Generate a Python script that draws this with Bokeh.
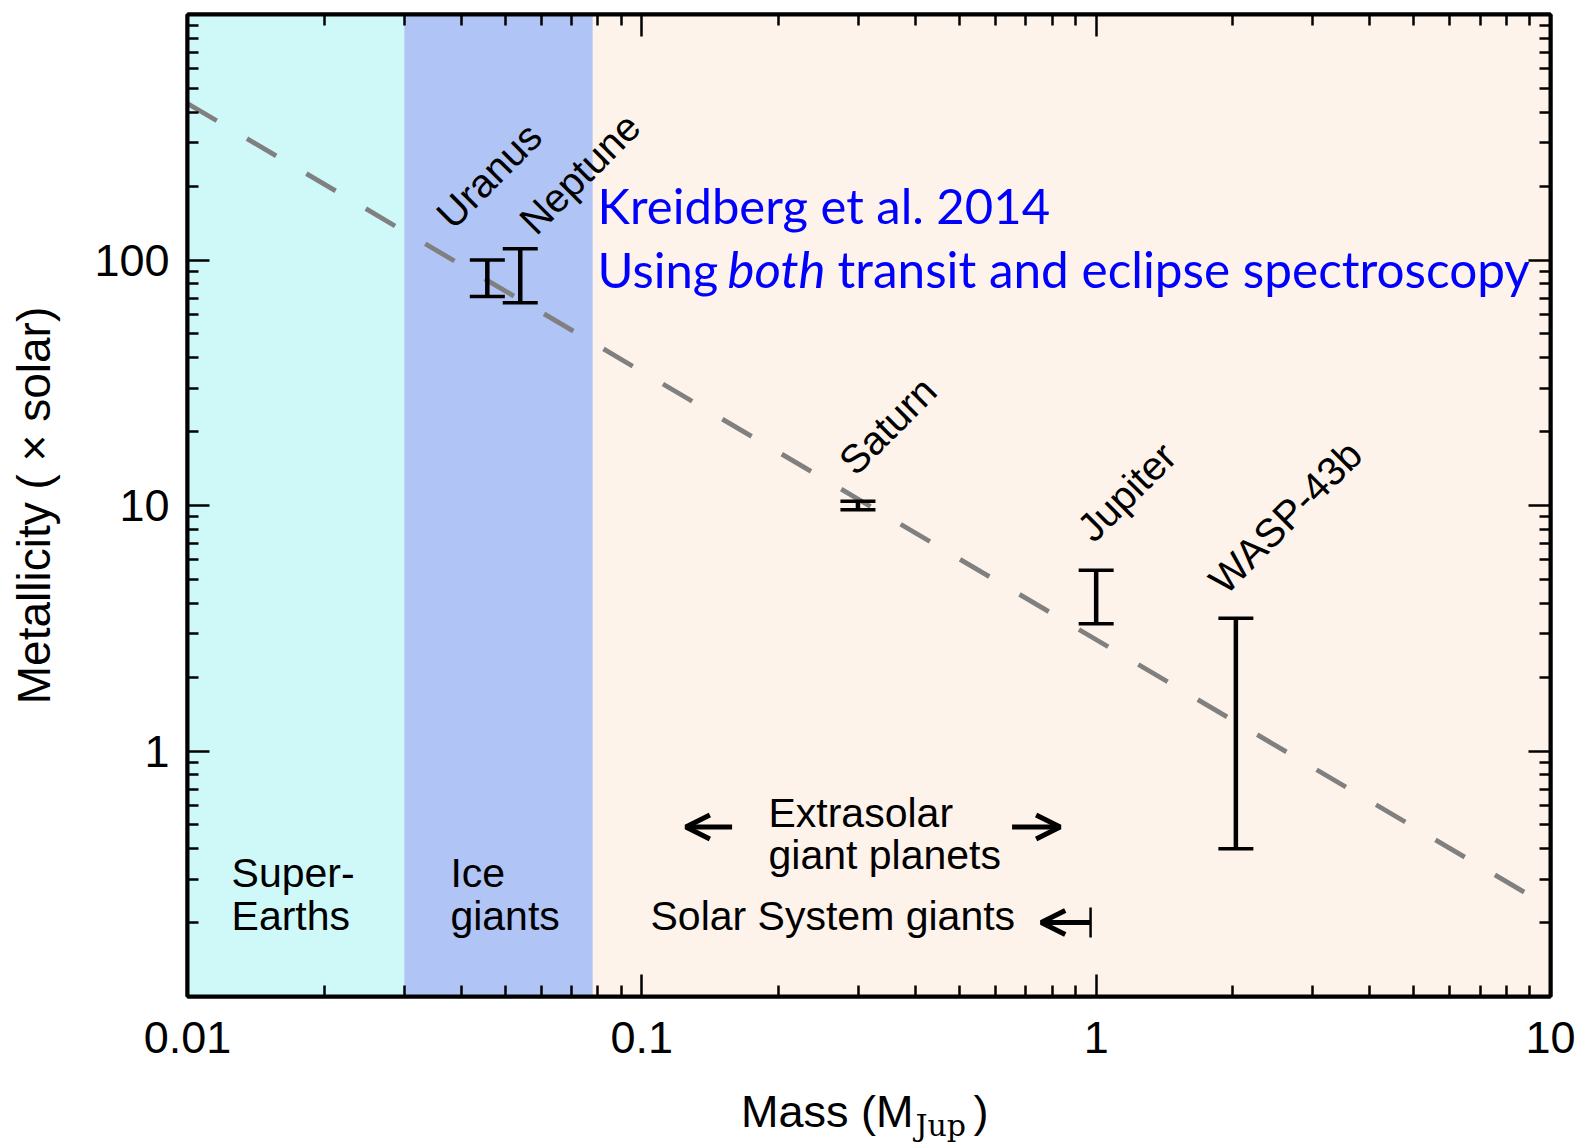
import numpy as np
from bokeh.plotting import figure
from bokeh.layouts import column
from bokeh.models import (LogAxis, FixedTicker, Arrow, OpenHead, TeeHead, Range1d)
from bokeh.embed import file_html
from bokeh.resources import INLINE
from bokeh.core.properties import value

# ---------------- data ----------------
planet_names = ["Uranus", "Neptune", "Saturn", "Jupiter", "WASP-43b"]
planet_mass = [0.0457, 0.054, 0.299, 1.0, 2.03]
metal_low = [71, 67, 9.6, 3.3, 0.40]
metal_high = [100, 111, 10.4, 5.45, 3.47]

trend_mass = [0.01, 10]
trend_metal = [434, 0.23]

region_left = [0.01, 0.03, 0.078]
region_right = [0.03, 0.078, 10]
region_colors = ["#CFF8F8", "#B0C4F5", "#FEF3EA"]

x_ticks = [0.01, 0.1, 1, 10]
x_tick_labels = ["0.01", "0.1", "1", "10"]
y_ticks = [1, 10, 100]
y_tick_labels = ["1", "10", "100"]

x_minor = [m * 10.0 ** k for k in range(-2, 1) for m in range(2, 10)]
y_minor = [m * 10.0 ** k for k in range(-1, 3) for m in range(2, 10)]

# annotation texts (anchor = left end of baseline)
region_texts = ["Super-", "Earths", "Ice", "giants", "Extrasolar", "giant planets", "Solar System giants"]
region_text_x = [0.0125, 0.0125, 0.0379, 0.0379, 0.19, 0.19, 0.1045]
region_text_y = [0.285, 0.19, 0.285, 0.19, 0.50, 0.337, 0.19]

label_dx = [-44, 6, -12, -12, -20]
label_dy = [-39, -22, -34, -36, -32]

# ---------------- figure ----------------
FONT = "Liberation Sans"

def bfix(size, k=0.4):
    # empirical shift so that the alphabetic baseline lands where intended
    return -k * size

p = figure(width=1585, height=1076, x_axis_type="log", y_axis_type="log",
           x_range=Range1d(0.01, 10), y_range=Range1d(0.1, 1000),
           output_backend="svg", toolbar_location=None,
           min_border_left=187, min_border_right=35, min_border_top=14, min_border_bottom=80)
p.xgrid.visible = False
p.ygrid.visible = False
p.outline_line_color = "black"
p.outline_line_width = 4
p.background_fill_color = "white"


def style_axis(ax, ticks, minor, labels, show_labels=True):
    ax.ticker = FixedTicker(ticks=ticks, minor_ticks=minor)
    ax.major_label_overrides = {t: l for t, l in zip(ticks, labels)}
    ax.axis_line_width = 4
    ax.axis_line_color = "black"
    ax.major_tick_in = 22
    ax.major_tick_out = 0
    ax.minor_tick_in = 11
    ax.minor_tick_out = 0
    ax.major_tick_line_width = 2.5
    ax.minor_tick_line_width = 2.5
    ax.major_tick_line_color = "black"
    ax.minor_tick_line_color = "black"
    ax.major_label_text_font = FONT
    ax.major_label_text_color = "black"
    if show_labels:
        ax.major_label_text_font_size = "45px"
    else:
        ax.major_label_text_font_size = "0px"
        ax.major_label_standoff = 0

style_axis(p.xaxis[0], x_ticks, x_minor, x_tick_labels)
style_axis(p.yaxis[0], y_ticks, y_minor, y_tick_labels)
p.xaxis[0].major_label_standoff = 25
p.yaxis[0].major_label_standoff = 18

top_ax = LogAxis()
style_axis(top_ax, x_ticks, x_minor, ["", "", "", ""], show_labels=False)
p.add_layout(top_ax, "above")
right_ax = LogAxis()
style_axis(right_ax, y_ticks, y_minor, ["", "", ""], show_labels=False)
p.add_layout(right_ax, "right")

p.yaxis[0].axis_label = "Metallicity ( \u00d7 solar)"
p.yaxis[0].axis_label_text_font = FONT
p.yaxis[0].axis_label_text_font_size = "46px"
p.yaxis[0].axis_label_text_font_style = "normal"
p.yaxis[0].axis_label_text_color = "black"
p.yaxis[0].axis_label_standoff = 31

# regions
p.quad(left=region_left, right=region_right, bottom=0.1, top=1000,
       fill_color=region_colors, line_color=None)

# trend line
p.line(trend_mass, trend_metal, line_dash="34 35", line_width=4.8, line_color="#808080")

# error bars
p.segment(x0=planet_mass, y0=metal_low, x1=planet_mass, y1=metal_high,
          line_width=4.5, line_color="black")
p.dash(x=planet_mass, y=metal_high, size=35, line_width=3.5, line_color="black")
p.dash(x=planet_mass, y=metal_low, size=35, line_width=3.5, line_color="black")

# planet labels
p.text(x=planet_mass, y=metal_high, text=planet_names, angle=45, angle_units="deg",
       x_offset=label_dx, y_offset=label_dy, text_font=value(FONT), text_font_size="40px",
       text_align="left", text_baseline="alphabetic", text_color="black")

# region labels
p.text(x=region_text_x, y=region_text_y, text=region_texts, text_font=value(FONT),
       text_font_size="41px", text_align="left", text_baseline="alphabetic",
       text_color="black", y_offset=bfix(41, 0.3))

# arrows
p.add_layout(Arrow(x_start=0.158, y_start=0.49, x_end=0.125, y_end=0.49, line_width=5,
                   end=OpenHead(size=24, line_width=5)))
p.add_layout(Arrow(x_start=0.653, y_start=0.49, x_end=0.833, y_end=0.49, line_width=5,
                   end=OpenHead(size=24, line_width=5)))
p.add_layout(Arrow(x_start=0.972, y_start=0.2, x_end=0.757, y_end=0.2, line_width=5,
                   start=TeeHead(size=30, line_width=2.5),
                   end=OpenHead(size=24, line_width=5)))

# blue annotation
BLUE_FONT = "Lato"
BS = 49
p.text(x=[0.0799], y=[139.6], text=["Kreidberg et al. 2014"], text_font=value(BLUE_FONT),
       text_font_size=f"{BS}px", text_color="blue", text_baseline="alphabetic",
       y_offset=bfix(BS))
p.text(x=[0.0799], y=[76.5], text=["Using"], text_font=value(BLUE_FONT),
       text_font_size=f"{BS}px", text_color="blue", text_baseline="alphabetic",
       y_offset=bfix(BS))
p.text(x=[0.0799], y=[76.5], x_offset=130, text=["both"], text_font=value(BLUE_FONT),
       text_font_size="51px", text_font_style="italic", text_color="blue",
       text_baseline="alphabetic", y_offset=bfix(BS))
p.text(x=[0.0799], y=[76.5], x_offset=240, text=["transit and eclipse spectroscopy"],
       text_font=value(BLUE_FONT), text_font_size="49.5px", text_color="blue",
       text_baseline="alphabetic", y_offset=bfix(BS))

# ---------------- x axis title strip (allows a subscript) ----------------
p2 = figure(width=1585, height=70, x_axis_type="log", x_range=p.x_range,
            y_range=Range1d(0, 70), output_backend="svg", toolbar_location=None,
            min_border_left=187, min_border_right=35, min_border_top=0, min_border_bottom=0)
p2.axis.visible = False
p2.xgrid.visible = False
p2.ygrid.visible = False
p2.outline_line_color = None
p2.background_fill_color = "white"

p2.text(x=[0.396], y=[19], text=["Mass (M"], text_font=value(FONT), text_font_size="45px",
        text_align="right", text_baseline="alphabetic", text_color="black", y_offset=bfix(45, 0.35))
p2.text(x=[0.396], y=[11], x_offset=2, text=["Jup"], text_font=value("DejaVu Serif"),
        text_font_size="30px", text_align="left", text_baseline="alphabetic",
        text_color="black", y_offset=bfix(30, 0.35))
p2.text(x=[0.396], y=[19], x_offset=60, text=[")"], text_font=value(FONT),
        text_font_size="45px", text_align="left", text_baseline="alphabetic",
        text_color="black", y_offset=bfix(45, 0.35))

layout = column(p, p2, spacing=0)
open("out.html", "w").write(file_html(layout, INLINE))
